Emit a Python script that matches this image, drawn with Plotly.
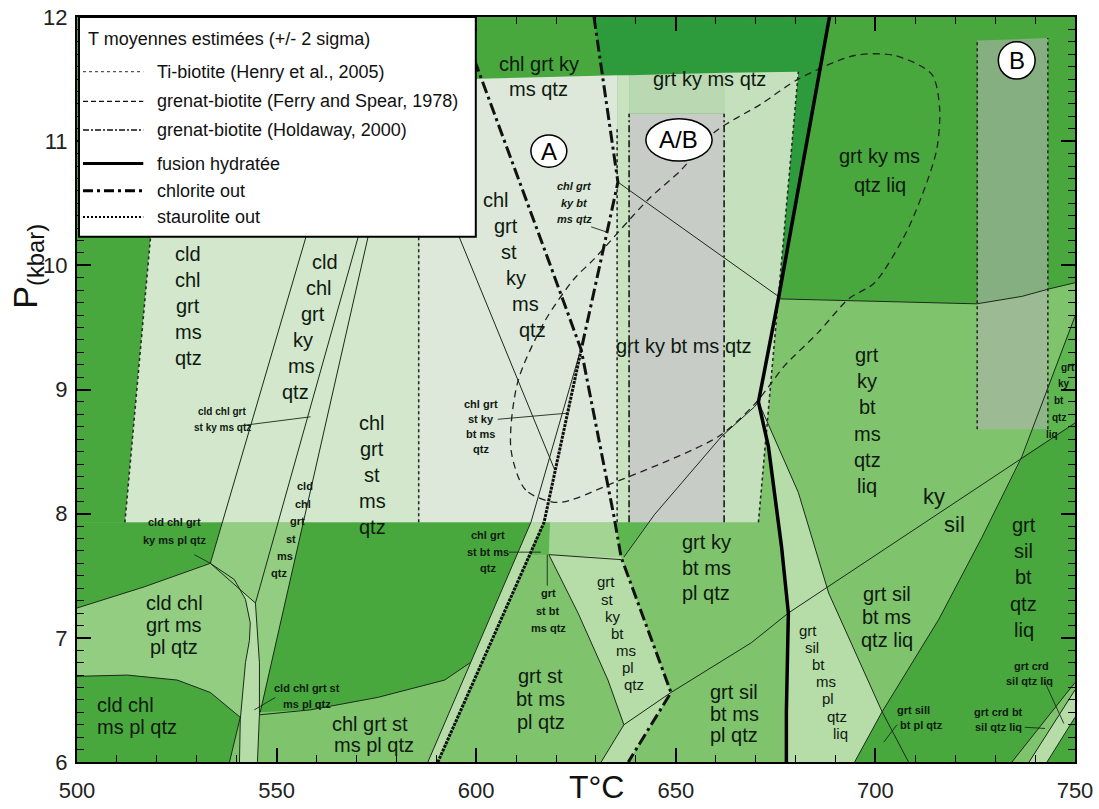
import plotly.graph_objects as go

# ---------------- axes ----------------
T_RANGE = [500, 750]
P_RANGE = [6, 12]
T_TICKS = [500, 550, 600, 650, 700, 750]
P_TICKS = [6, 7, 8, 9, 10, 11, 12]

# ---------------- colours ----------------
DARKEST = '#2d9b3b'
DARK = '#48a83e'
MEDDARK = '#5db64f'
MED = '#7fc46d'
MEDLIGHT = '#93cd81'
LIGHT = '#b6dca8'
BAND = '#a3d493'
LINE = '#1a2a1a'
TXT = '#0f1a0f'

# ---------------- phase fields (T degC, P kbar) ----------------
field_upper_left = [(500, 12), (629.5, 12), (635.5, 10.67), (617.0, 7.93), (500, 7.93)]
field_grt_ky_ms_qtz = [(629.5, 12), (688.5, 12), (675.7, 9.73), (635.5, 10.67)]
field_grt_ky_ms_qtz_liq = [(688.5, 12), (750, 12), (750, 9.86), (743.5, 9.81), (736.7, 9.75), (725.4, 9.69), (675.7, 9.73)]
field_cld_ky_pl = [(500, 7.93), (536.4, 7.93), (533.4, 7.60), (516.8, 7.41), (500, 7.24)]
field_cld_chl_grt_ms_pl = [(500, 7.24), (516.8, 7.41), (533.4, 7.60), (539.4, 7.47), (542.2, 7.31), (543.4, 7.12),
                           (543.2, 6.98), (542.2, 6.80), (540.9, 6.34), (533.4, 6.56), (525.1, 6.66), (512.6, 6.70), (500, 6.69)]
field_cld_chl_ms_pl = [(500, 6.69), (512.6, 6.70), (525.1, 6.66), (533.4, 6.56), (540.9, 6.36), (538.2, 6.0), (500, 6.0)]
field_lens_strip = [(533.4, 7.60), (539.4, 7.47), (542.2, 7.31), (543.4, 7.12), (543.2, 6.98), (542.2, 6.80), (540.9, 6.34),
                    (540.7, 6.0), (545.2, 6.0), (545.7, 6.38), (545.7, 6.80), (544.7, 7.28), (540.9, 7.39)]
field_ky_st_strips = [(533.4, 7.60), (540.9, 7.39), (544.7, 7.28), (545.7, 6.80), (545.9, 6.40), (556.7, 7.93), (536.4, 7.93)]
field_chl_grt_st_ms = [(556.7, 7.93), (613.7, 7.93), (598.5, 6.80), (592.1, 6.66), (575.3, 6.52), (558.5, 6.42), (545.9, 6.40)]
field_st_out_strip = [(613.7, 7.93), (617.0, 7.93), (590.4, 6.0), (587.9, 6.0)]
field_chl_grt_st_bt = [(617.0, 7.93), (618.5, 7.93), (618.2, 7.67), (613.4, 7.67)]
field_band = [(618.5, 7.93), (634.8, 7.93), (636.3, 7.65), (618.2, 7.67)]
field_grt_st_ky_bt = [(618.2, 7.67), (636.3, 7.65), (648.8, 6.56), (637.0, 6.30), (633.0, 6.66), (625.5, 7.20)]
field_bottom_strip = [(637.0, 6.30), (648.8, 6.56), (638.1, 6.0), (631.3, 6.0)]
field_grt_ky_bt_low = [(634.8, 7.93), (643.1, 7.93), (636.8, 7.65)]
field_liq_light = [(670.7, 8.90), (673.2, 8.54), (676.5, 7.73), (678.2, 7.20), (677.7, 6.40), (677.7, 6.0),
                   (708.3, 6.0), (701.6, 6.41), (688.3, 7.36), (680.7, 8.17)]
field_grt_ky_bt_qtz_liq = [(750, 9.59), (743.0, 9.0), (736.9, 8.46), (750, 8.73)]
field_grt_sil_bt_qtz_liq = [(736.9, 8.46), (726.7, 7.81), (715.9, 7.15), (701.6, 6.40), (694.8, 6.0), (750, 6.0), (750, 8.73)]
field_crd_a = [(734.2, 6.0), (750, 6.64), (750, 6.58), (738.5, 6.0)]
field_crd_b = [(738.5, 6.0), (750, 6.58), (750, 6.36), (743.0, 6.0)]

# ---------------- temperature estimate bands ----------------
est_col1 = [(512.0, 7.93), (585.6, 7.93), (585.6, 11.49), (521.8, 11.44)]
est_col2 = [(585.6, 7.93), (635.3, 7.93), (635.3, 11.53), (585.6, 11.49)]
est_col3 = [(635.3, 7.93), (638.3, 7.93), (638.3, 11.53), (635.3, 11.53)]
est_col4_top = [(638.3, 11.22), (662.1, 11.22), (662.1, 11.55), (638.3, 11.53)]
est_col4 = [(638.3, 7.93), (662.1, 7.93), (662.1, 11.22), (638.3, 11.22)]
est_col5 = [(662.1, 7.93), (670.7, 7.93), (680.7, 11.56), (662.1, 11.55)]
est_B = [(725.5, 8.68), (743.2, 8.68), (743.2, 11.83), (725.5, 11.81)]

# ---------------- boundaries ----------------
line_A = [(533.4, 7.60), (557.2, 10.21), (573.5, 12)]
line_C = [(544.7, 7.28), (570.3, 10.21), (585.9, 12)]
line_B = [(545.9, 6.40), (572.8, 10.21), (585.4, 12)]
curve_cld_top = [(500, 7.24), (516.8, 7.41), (533.4, 7.60)]
lens_outer = [(533.4, 7.60), (539.4, 7.47), (542.2, 7.31), (543.4, 7.12), (543.2, 6.98), (542.2, 6.80), (540.9, 6.34), (540.7, 6.0)]
lens_inner = [(533.4, 7.60), (540.9, 7.39), (544.7, 7.28), (545.7, 6.80), (545.7, 6.38), (545.2, 6.0)]
curve_cld_chl_ms = [(500, 6.69), (512.6, 6.70), (525.1, 6.66), (533.4, 6.56), (540.9, 6.36), (538.2, 6.0)]
curve_chl_st_low = [(545.7, 6.38), (558.5, 6.42), (575.3, 6.52), (592.1, 6.66), (598.5, 6.80)]
line_R = [(625.8, 9.28), (613.7, 7.93), (587.9, 6.0)]
line_st = [(591.0, 10.6), (619.7, 8.35)]
line_T2 = [(635.5, 10.67), (675.7, 9.75)]
line_V_up = [(670.7, 8.90), (669.7, 8.86), (661.4, 8.62), (644.6, 7.99), (637.0, 7.65)]
line_h767 = [(618.2, 7.67), (636.3, 7.63)]
curve_st_ky_left = [(618.2, 7.67), (625.5, 7.20), (633.0, 6.66), (637.0, 6.30)]
line_bot1 = [(637.0, 6.30), (648.8, 6.56)]
line_bot2 = [(637.0, 6.30), (631.3, 6.0)]
line_liq_top = [(675.7, 9.73), (725.4, 9.69), (736.7, 9.75), (743.5, 9.81), (750, 9.86)]
line_V = [(670.7, 8.90), (680.7, 8.17), (688.3, 7.36), (701.6, 6.41), (708.3, 6.0)]
line_U = [(750, 9.59), (743.0, 9.0), (736.7, 8.46), (726.7, 7.81), (715.9, 7.15), (701.6, 6.40), (694.8, 6.0)]
line_kysil = [(648.8, 6.56), (668.9, 6.96), (678.2, 7.20), (750, 8.73)]
line_La = [(734.2, 6.0), (750, 6.64)]
line_Lb = [(738.5, 6.0), (750, 6.58)]
line_Lc = [(743.0, 6.0), (750, 6.36)]
leaders = [
    [(541.4, 8.71), (558.5, 8.78)],
    [(529.4, 7.67), (533.4, 7.60)],
    [(544.4, 6.42), (549.7, 6.52)],
    [(605.4, 8.76), (623.0, 8.81)],
    [(608.2, 7.69), (616.2, 7.69)],
    [(617.8, 7.67), (617.8, 7.42)],
    [(628.8, 10.31), (632.5, 10.27)],
    [(705.4, 6.30), (702.1, 6.16)],
    [(737.4, 6.28), (742.5, 6.27)],
    [(742.5, 6.64), (747.2, 6.31)],
]
# thick reaction lines
fusion_hydratee = [(688.5, 12), (675.7, 9.73), (670.7, 8.90), (673.2, 8.54), (676.5, 7.73), (678.2, 7.20), (677.7, 6.40), (677.7, 6.0)]
chlorite_out_1 = [(595.6, 12), (598.6, 11.74), (618.0, 10.05), (626.3, 9.32), (634.5, 7.98), (636.3, 7.65), (648.8, 6.56), (638.1, 6.0)]
chlorite_out_2 = [(629.5, 12), (635.5, 10.67), (631.3, 10.05), (626.3, 9.32)]
staurolite_out = [(626.3, 9.32), (617.0, 7.93), (590.4, 6.0)]
# estimate band edges
henry_edges = [[(512.0, 7.93), (521.8, 11.44)], [(585.6, 7.93), (585.6, 11.49)],
               [(635.3, 7.93), (635.3, 11.12)], [(670.7, 7.93), (680.7, 11.56)],
               [(725.5, 8.68), (725.5, 11.81)], [(743.2, 8.68), (743.2, 11.83)]]
holdaway_edges = [[(638.3, 7.93), (638.3, 11.22)], [(662.1, 7.93), (662.1, 11.22)]]
# Ferry & Spear loop
ferry_T = [620.5, 612.4, 608.7, 610.4, 617.0, 624.5, 629.5, 643.1, 651.4, 659.6, 671.4, 680.7, 694.8, 704.8,
           714.1, 716.1, 715.4, 712.9, 707.8, 699.8, 693.3, 685.7, 677.2, 673.2, 669.7, 660.6, 634.5, 620.5]
ferry_P = [8.09, 8.19, 8.52, 9.06, 9.54, 9.89, 10.05, 10.53, 10.77, 11.07, 11.30, 11.50, 11.69, 11.69,
           11.54, 11.26, 10.94, 10.67, 10.27, 9.86, 9.73, 9.46, 9.19, 9.02, 8.88, 8.62, 8.25, 8.09]

# ---------------- labels ----------------
big_labels = [
    (["cld", "chl", "grt", "ms", "qtz"], [527.9], 10.09, 0.21),
    (["cld", "chl", "grt", "ky", "ms", "qtz"], [562.2, 560.5, 559.2, 556.7, 556.2, 554.7], 10.03, 0.21),
    (["chl", "grt", "st", "ms", "qtz"], [574.0], 8.73, 0.21),
    (["chl", "grt", "st", "ky", "ms", "qtz"], [604.9, 607.4, 608.2, 609.9, 612.4, 614.2], 10.53, 0.21),
    (["chl grt ky", "ms qtz"], [615.7], 11.62, 0.20),
    (["grt ky ms qtz"], [658.4], 11.50, 0.2),
    (["grt ky bt ms qtz"], [652.1], 9.35, 0.2),
    (["grt ky ms", "qtz liq"], [701.1], 10.88, 0.23),
    (["grt", "ky", "bt", "ms", "qtz", "liq"], [698.0], 9.28, 0.212),
    (["grt sil", "bt ms", "qtz liq"], [702.8], 7.35, 0.185),
    (["grt", "sil", "bt", "qtz", "liq"], [737.2], 7.91, 0.212),
    (["grt ky", "bt ms", "pl qtz"], [657.6], 7.77, 0.205),
    (["grt sil", "bt ms", "pl qtz"], [664.7], 6.56, 0.17),
    (["grt st", "bt ms", "pl qtz"], [616.2], 6.69, 0.185),
    (["chl grt st", "ms pl qtz"], [573.5, 574.5], 6.31, 0.175),
    (["cld chl", "grt ms", "pl qtz"], [524.3], 7.28, 0.175),
]
mid_labels = [
    (["grt", "sil", "bt", "ms", "pl", "qtz", "liq"], [683.2, 684.2, 685.7, 687.7, 688.0, 690.3, 691.3], 7.06, 0.138),
    (["grt", "st", "ky", "bt", "ms", "pl", "qtz"], [632.5, 633.0, 634.3, 635.5, 637.5, 638.1, 639.6], 7.45, 0.138),
]
left_labels = [(["cld chl", "ms pl qtz"], [504.5], 6.46, 0.18)]
ky_sil_labels = [("ky", 714.6, 8.14), ("sil", 719.9, 7.91)]
small_labels = [
    (["cld chl grt", "st ky ms qtz"], [536.4], 8.82, 0.13, 10, False),
    (["cld chl grt", "ky ms pl qtz"], [524.4], 7.93, 0.14, 11, False),
    (["cld", "chl", "grt", "st", "ms", "qtz"], [557.2, 556.5, 555.2, 553.5, 552.2, 550.5], 8.22, 0.14, 11, False),
    (["cld chl grt st", "ms pl qtz"], [557.7], 6.60, 0.13, 11, False),
    (["chl grt", "st ky", "bt ms", "qtz"], [601.2], 8.88, 0.12, 11, False),
    (["chl grt", "st bt ms", "qtz"], [602.9], 7.83, 0.135, 11, False),
    (["grt", "st bt", "ms qtz"], [618.0], 7.36, 0.14, 11, False),
    (["chl grt", "ky bt", "ms qtz"], [624.6], 10.64, 0.135, 11, True),
    (["grt sill", "bt pl qtz"], [709.6, 711.6], 6.42, 0.12, 11, False),
    (["grt crd bt", "sil qtz liq"], [730.9], 6.40, 0.12, 11, False),
    (["grt crd", "sil qtz liq"], [739.2, 738.5], 6.77, 0.12, 11, False),
    (["grt", "ky", "bt", "qtz", "liq"], [748.2, 747.2, 746.0, 746.0, 744.2], 9.18, 0.135, 10, False),
]
circle_labels = [("A", 618.2, 10.92, 4.5, 0.13, 24), ("A/B", 650.8, 11.01, 8.3, 0.17, 24), ("B", 735.4, 11.65, 4.6, 0.15, 24)]

legend_title = "T moyennes estimées (+/- 2 sigma)"
legend_items = ["Ti-biotite (Henry et al., 2005)", "grenat-biotite (Ferry and Spear, 1978)",
                "grenat-biotite (Holdaway, 2000)", "fusion hydratée", "chlorite out", "staurolite out"]
legend_rows_P = [11.56, 11.32, 11.09, 10.82, 10.60, 10.39]

# ---------------- build ----------------
fig = go.Figure()


def add_poly(pts, color):
    xs = [p[0] for p in pts] + [pts[0][0]]
    ys = [p[1] for p in pts] + [pts[0][1]]
    fig.add_trace(go.Scatter(x=xs, y=ys, mode='none', fill='toself', fillcolor=color,
                             hoverinfo='skip', showlegend=False))


def add_line(pts, width=1.0, dash='solid', color=LINE, shape='linear'):
    fig.add_trace(go.Scatter(x=[p[0] for p in pts], y=[p[1] for p in pts], mode='lines',
                             line=dict(width=width, dash=dash, color=color, shape=shape),
                             hoverinfo='skip', showlegend=False))


for pts, col in [
    (field_upper_left, DARK), (field_grt_ky_ms_qtz, DARKEST), (field_grt_ky_ms_qtz_liq, DARK),
    (field_cld_ky_pl, DARK), (field_cld_chl_grt_ms_pl, MEDLIGHT), (field_cld_chl_ms_pl, DARK),
    (field_lens_strip, LIGHT), (field_ky_st_strips, MEDLIGHT), (field_chl_grt_st_ms, DARK),
    (field_st_out_strip, LIGHT), (field_chl_grt_st_bt, MEDDARK), (field_band, BAND),
    (field_grt_st_ky_bt, LIGHT), (field_bottom_strip, LIGHT), (field_grt_ky_bt_low, MEDDARK),
    (field_liq_light, LIGHT), (field_grt_ky_bt_qtz_liq, MEDDARK), (field_grt_sil_bt_qtz_liq, DARK),
    (field_crd_a, MED), (field_crd_b, LIGHT),
    (est_col1, '#d2e7cc'), (est_col2, '#dde8da'), (est_col3, '#c9e3c1'), (est_col4_top, '#bad9b2'),
    (est_col4, '#c8ccc7'), (est_col5, '#c5e0bd'), (est_B, 'rgba(175,180,175,0.6)'),
]:
    add_poly(pts, col)

for pts in [line_A, line_C, line_B, curve_cld_top, lens_outer, lens_inner, curve_cld_chl_ms, curve_chl_st_low,
            line_R, line_st, line_T2, line_V_up, line_h767, curve_st_ky_left, line_bot1, line_bot2,
            line_liq_top, line_V, line_U, line_kysil, line_La, line_Lb, line_Lc]:
    add_line(pts, 1.0)
for pts in leaders:
    add_line(pts, 0.9)
for pts in henry_edges:
    add_line(pts, 1.6, 'dot', '#2a2a2a')
for pts in holdaway_edges:
    add_line(pts, 1.6, '7px,3px,2px,3px', '#1a1a1a')

fig.add_trace(go.Scatter(x=ferry_T, y=ferry_P, mode='lines',
                         line=dict(width=1.3, dash='7px,5px', color='#222', shape='spline', smoothing=0.8),
                         hoverinfo='skip', showlegend=False))

add_line(staurolite_out, 3.0, '3px,1px', '#111')
add_line(chlorite_out_1, 3.0, '12px,4px,3px,4px', '#111')
add_line(chlorite_out_2, 3.0, '12px,4px,3px,4px', '#111')
add_line(fusion_hydratee, 3.5, 'solid', '#000')

FONT = 'Arial, Liberation Sans, sans-serif'
NARROW = 'Liberation Sans Narrow, Arial Narrow, Arial, sans-serif'
ann = []


def stack(lines, Ts, P0, dP, size, family=FONT, italic=False, bold=False, xanchor='center'):
    for i, t in enumerate(lines):
        T = Ts[i] if len(Ts) > 1 else Ts[0]
        txt = t
        if bold:
            txt = '<b>' + txt + '</b>'
        if italic:
            txt = '<i>' + txt + '</i>'
        ann.append(dict(x=T, y=P0 - i * dP, xref='x', yref='y', text=txt, showarrow=False,
                        xanchor=xanchor, yanchor='middle', font=dict(family=family, size=size, color=TXT)))


for lines, Ts, P0, dP in big_labels:
    stack(lines, Ts, P0, dP, 20)
for lines, Ts, P0, dP in mid_labels:
    stack(lines, Ts, P0, dP, 15)
for lines, Ts, P0, dP in left_labels:
    stack(lines, Ts, P0, dP, 20, xanchor='left')
for t, T, P in ky_sil_labels:
    stack([t], [T], P, 0, 22)
for lines, Ts, P0, dP, size, it in small_labels:
    stack(lines, Ts, P0, dP, size, family=NARROW, italic=it, bold=True)

shapes = []
for t, T, P, rx, ry, size in circle_labels:
    shapes.append(dict(type='circle', xref='x', yref='y', x0=T - rx, x1=T + rx, y0=P - ry, y1=P + ry,
                       fillcolor='white', line=dict(color='black', width=1.5), layer='above'))
    ann.append(dict(x=T, y=P, xref='x', yref='y', text=t, showarrow=False,
                    font=dict(family=FONT, size=size, color='black')))

# legend box
shapes.append(dict(type='rect', xref='x', yref='y', x0=500.5, x1=599.9, y0=10.23, y1=12.0,
                   fillcolor='white', line=dict(color='black', width=2), layer='above'))
ann.append(dict(x=502.3, y=11.82, xref='x', yref='y', text=legend_title, showarrow=False,
                xanchor='left', yanchor='middle', font=dict(family=FONT, size=18, color='#111')))
legend_styles = [('#555', 1.2, 'dot'), ('#111', 1.3, '5px,3px'), ('#111', 1.3, '6px,2px,2px,2px'),
                 ('#000', 3.0, 'solid'), ('#000', 3.0, '10px,4px,3px,4px'), ('#000', 2.0, '2px,2px')]
for (col, w, d), name, P in zip(legend_styles, legend_items, legend_rows_P):
    shapes.append(dict(type='line', xref='x', yref='y', x0=501.5, x1=516.6, y0=P, y1=P,
                       line=dict(color=col, width=w, dash=d), layer='above'))
    ann.append(dict(x=519.6, y=P, xref='x', yref='y', text=name, showarrow=False,
                    xanchor='left', yanchor='middle', font=dict(family=FONT, size=18, color='#111')))

# axis titles
ann.append(dict(x=0.521, y=-0.0605, xref='paper', yref='paper', text='T°C', showarrow=False,
                xanchor='center', yanchor='bottom', font=dict(family=FONT, size=32, color='#111')))
ann.append(dict(x=-0.05, y=0.665, xref='paper', yref='paper', text='P<sub>(kbar)</sub>', showarrow=False,
                textangle=-90, xanchor='center', yanchor='middle', font=dict(family=FONT, size=34, color='#111')))

axis_common = dict(showgrid=False, zeroline=False, showline=True, linewidth=2, linecolor='black',
                   mirror='ticks', ticks='inside', ticklen=14, tickwidth=1.5, tickcolor='black',
                   automargin=False,
                   tickfont=dict(family=FONT, size=22, color='#222'), layer='above traces')

fig.update_layout(
    width=1099, height=809, autosize=False,
    margin=dict(l=77, r=24, t=17, b=47),
    paper_bgcolor='white', plot_bgcolor=MED,
    showlegend=False, hovermode=False,
    xaxis=dict(range=T_RANGE, tickvals=T_TICKS, ticklabelstandoff=8,
               minor=dict(dtick=10, ticks='inside', ticklen=7, tickwidth=1, tickcolor='black'),
               **axis_common),
    yaxis=dict(range=P_RANGE, tickvals=P_TICKS, ticklabelstandoff=3,
               minor=dict(dtick=0.1, ticks='inside', ticklen=7, tickwidth=1, tickcolor='black'),
               **axis_common),
    shapes=shapes, annotations=ann,
)

fig.write_html("out.html", config={'displayModeBar': False},
               post_script="document.body.style.margin='0px';")
